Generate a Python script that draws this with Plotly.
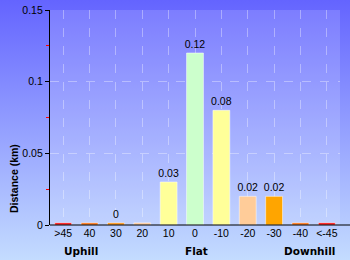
import base64
import plotly.graph_objects as go

categories = [">45", "40", "30", "20", "10", "0", "-10", "-20", "-30", "-40", "<-45"]
distance_km = [0.0015, 0.0015, 0.0015, 0.0015, 0.03, 0.12, 0.08, 0.02, 0.02, 0.0015, 0.0015]
bar_labels = ["", "", "0", "", "0.03", "0.12", "0.08", "0.02", "0.02", "", ""]
bar_colors = ["#ff0000", "#ff6a00", "#ff8c00", "#ffc896", "#ffff99", "#ccffcc",
              "#ffff99", "#ffcc99", "#ffa500", "#ff6a00", "#ff0000"]
y_ticks = [0, 0.05, 0.1, 0.15]
y_tick_text = ["0", "0.05", "0.1", "0.15"]
group_labels = ["Uphill", "Flat", "Downhill"]

W, H = 350, 260
L, R, T, B = 50, 10, 10, 35
PW, PH = W - L - R, H - T - B

svg = (
    '<svg xmlns="http://www.w3.org/2000/svg" width="350" height="260" preserveAspectRatio="none">'
    '<defs><linearGradient id="g" x1="0" y1="0" x2="0" y2="1">'
    '<stop offset="0" stop-color="#6464ff"/>'
    '<stop offset="1" stop-color="#c4dcff"/>'
    '</linearGradient></defs>'
    '<rect width="350" height="260" fill="url(#g)"/></svg>'
)
src = "data:image/svg+xml;base64," + base64.b64encode(svg.encode()).decode()

TICKFONT = dict(family="Liberation Sans", size=10.5, color="black")

fig = go.Figure()
fig.add_trace(go.Bar(
    x=categories, y=distance_km, text=bar_labels, textposition="outside",
    textfont=TICKFONT, constraintext="none",
    marker=dict(color=bar_colors, line=dict(color="rgba(255,255,255,0.5)", width=1)),
    cliponaxis=False, width=0.64, hoverinfo="skip",
))

def px_x(x):
    return (x - L) / PW

def px_y(y):
    return (H - B - y) / PH

fig.update_layout(
    width=W, height=H,
    margin=dict(l=L, r=R, t=T, b=B, autoexpand=False),
    paper_bgcolor="rgba(0,0,0,0)",
    plot_bgcolor="rgba(0,0,0,0)",
    showlegend=False,
    font=TICKFONT,
    images=[dict(source=src, xref="paper", yref="paper",
                 x=px_x(0), y=px_y(0), sizex=W / PW, sizey=H / PH,
                 xanchor="left", yanchor="top", sizing="stretch", layer="below")],
    shapes=[
        dict(type="rect", xref="paper", yref="paper", x0=0, x1=1, y0=0, y1=1,
             fillcolor="rgba(255,255,255,0.14)", line=dict(width=0), layer="below"),
        dict(type="line", xref="paper", yref="paper", x0=0, x1=px_x(350), y0=0, y1=0,
             line=dict(color="black", width=1.2), layer="above"),
    ],
    xaxis=dict(
        type="category", range=[-0.5, 10.5], showgrid=True,
        gridcolor="rgba(255,255,255,0.35)", griddash="dash", gridwidth=1,
        ticks="", tickfont=TICKFONT, showline=False, zeroline=False,
        fixedrange=True, automargin=False,
    ),
    yaxis=dict(
        range=[0, 0.15], tickvals=y_ticks, ticktext=y_tick_text,
        showgrid=True, gridcolor="rgba(255,255,255,0.35)", griddash="dash",
        ticks="outside", ticklen=4, tickcolor="black", tickwidth=1,
        showline=True, linecolor="black", linewidth=1.2,
        tickfont=TICKFONT, zeroline=False,
        minor=dict(dtick=0.025, tick0=0.025, ticks="outside", ticklen=3,
                   tickcolor="red", showgrid=False),
        fixedrange=True, automargin=False,
    ),
    bargap=0.36,
)

fig.add_annotation(text="<b>Distance (km)</b>", textangle=-90, xref="paper", yref="paper",
                   x=px_x(14), y=px_y(179), xanchor="center", yanchor="middle",
                   showarrow=False,
                   font=dict(family="Liberation Sans", size=10.5, color="black"))
for label, cx in zip(group_labels, [80.5, 196, 309.5]):
    fig.add_annotation(text="<b>%s</b>" % label, xref="paper", yref="paper",
                       x=px_x(cx), y=px_y(251), xanchor="center", yanchor="middle",
                       showarrow=False,
                       font=dict(family="DejaVu Sans", size=10.5, color="black"))

fig.write_html("out.html")
